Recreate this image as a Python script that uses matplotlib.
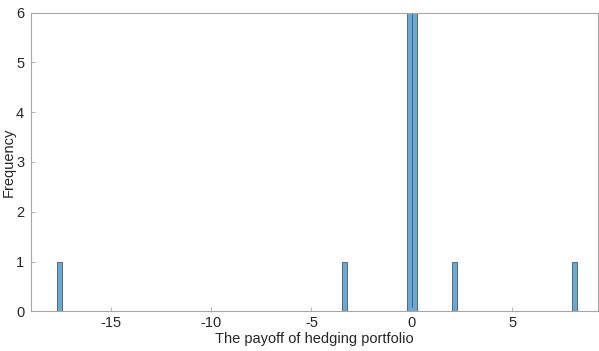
import matplotlib.pyplot as plt
import matplotlib

matplotlib.rcParams.update({
    "font.family": "Liberation Sans",
    "font.size": 10.5,
    "xtick.direction": "in",
    "ytick.direction": "in",
    "axes.unicode_minus": False,
})

# Histogram of hedging portfolio payoffs (bin centres and counts)
bin_width = 0.26
bin_centers = [-17.57, -3.35, -0.12, 0.14, 2.14, 8.10]
counts = [1, 1, 6, 6, 1, 1]

x_ticks = [-15, -10, -5, 0, 5]
y_ticks = [0, 1, 2, 3, 4, 5, 6]

fig = plt.figure(figsize=(5.99, 3.51), dpi=100)
ax = fig.add_axes([0.052, 0.113, 0.946, 0.851])

ax.bar(bin_centers, counts, width=bin_width, color="#66aad7",
       edgecolor="#555555", linewidth=0.6, align="center")

ax.set_xlim(-18.97, 9.27)
ax.set_ylim(0, 6)
ax.set_xticks(x_ticks)
ax.set_yticks(y_ticks)
ax.set_xlabel("The payoff of hedging portfolio", color="#262626", labelpad=1)
ax.set_ylabel("Frequency", color="#262626", labelpad=0)

for side in ["top", "right", "bottom", "left"]:
    ax.spines[side].set_color("#a6a6a6")
    ax.spines[side].set_linewidth(0.8)
ax.tick_params(colors="#a6a6a6", labelcolor="#262626", length=3, width=0.6)
ax.tick_params(axis="y", pad=5)

fig.savefig("out.png", dpi=100)
